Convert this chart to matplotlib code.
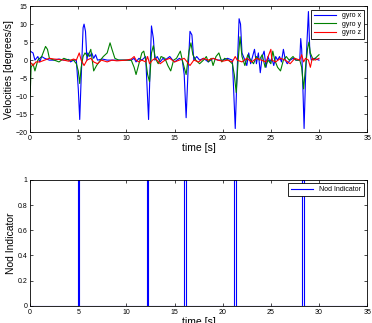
import matplotlib
matplotlib.use("Agg")
import matplotlib.pyplot as plt
from matplotlib.ticker import FuncFormatter

# gyro keypoints (time [s], degrees/s)
gx_t = [0, 0.3, 0.5, 0.8, 1.0, 1.2, 1.5, 2, 2.5, 3, 3.5, 4, 4.2, 4.5, 4.8,
        5.0, 5.15, 5.3, 5.5, 5.6, 5.75, 5.9, 6.0, 6.2, 6.4, 6.6, 6.8, 7, 7.5,
        8, 9, 10, 10.5, 10.8, 11, 11.3, 11.6, 12, 12.1, 12.3, 12.45, 12.6,
        12.8, 12.95, 13.2, 13.5, 13.8, 14, 14.5, 14.8, 15, 15.5, 15.8, 16.0,
        16.2, 16.4, 16.6, 16.8, 17, 17.3, 17.6, 18, 18.5, 19, 19.5, 20, 20.5,
        21, 21.1, 21.3, 21.5, 21.7, 21.85, 22, 22.3, 22.5, 22.7, 22.9, 23.1,
        23.3, 23.5, 23.7, 23.9, 24.1, 24.3, 24.5, 24.7, 24.9, 25.1, 25.3,
        25.5, 25.7, 25.9, 26.1, 26.3, 26.5, 26.7, 27, 27.3, 27.6, 28.0, 28.1,
        28.2, 28.35, 28.45, 28.6, 28.75, 28.9, 29.05, 29.2, 29.5, 30]
gx_v = [2.5, 2, 0, 1, -0.5, 1, 0.5, 0, 0, 0.3, 0, 0.2, -0.5, 0, 0,
        -8, -16.5, -5, 9, 10, 8, 0, 2, 1, 2, 0.5, 1.5, 0, 0.3,
        0, 0, 0, 0, 0.5, -0.5, 0.5, 0, 1, -5, -16.5, -3, 9.5,
        6, 0, 1, -0.5, 0.5, 0, 1, 0, -0.5, 0.5, 0, -4,
        -16, -3, 8, 7, 0, 1, 0, 0.5, -0.5, 0.5, 0, 0, 0.5,
        0, -6, -19, -3, 11.5, 10, 2, 0, -1.5, 2, -1, 1,
        3, -1, 2, -3.5, 1, 2.5, -2, 1, -0.5, 0.5, -1.5,
        1, 0, 1, -0.5, 3, 0, -1, 0, 0.5, 0, 0, 6,
        3, -10, -19, -5, 5, 13.5, 2, 0, 0.5, 0]

gy_t = [0, 0.1, 0.3, 0.5, 0.8, 1.2, 1.6, 1.8, 2.0, 2.5, 3, 3.5, 4, 4.5, 4.8,
        5.0, 5.15, 5.3, 5.5, 5.7, 6, 6.3, 6.6, 6.9, 7.3, 7.6, 8, 8.3, 8.5,
        8.8, 9.2, 9.5, 10, 10.5, 10.8, 11.0, 11.3, 11.6, 11.8, 12, 12.2, 12.4,
        12.6, 12.8, 13, 13.3, 13.6, 14, 14.3, 14.6, 14.9, 15.2, 15.6, 15.8,
        16, 16.2, 16.5, 16.7, 16.9, 17.2, 17.6, 18, 18.3, 18.5, 18.8, 19,
        19.3, 19.6, 19.9, 20.2, 20.6, 21, 21.2, 21.4, 21.6, 21.8, 22, 22.3,
        22.6, 22.9, 23.2, 23.5, 23.8, 24.1, 24.4, 24.7, 25, 25.2, 25.4, 25.7,
        26, 26.3, 26.6, 26.9, 27.3, 27.6, 28, 28.2, 28.3, 28.4, 28.6, 28.8,
        28.95, 29.1, 29.4, 29.8, 30]
gy_v = [-10, -2, -1, -3, 0, 1, 3.8, 3, 0.5, 0, -0.5, 0.5, 0, 0, -1,
        -3, -6.5, -2, 1, 2, 1, 3, -3, -1.5, 0, 1, 2, 4.8, 3,
        0.5, 0, 0, 0, 0, -2, -4, -1, 2, 2.5, 0, -4, -6,
        2, 4, 0.5, -1, 1, 0.5, -1.5, -3, 0, 0.5, 2.5, 0,
        -2, -4, 2.5, 4.8, 1.5, 0, -1, 0, 1, -0.5, 0.5, -1.5,
        1, 2, -0.5, 0.5, 0, -1, -4, -9, 0, 6.5, 1, -1.5,
        1.5, 0, -1, 1, 0, 1.5, -2, 0, -1, 2.5, 0, -2,
        -3, 0, 1, 0, 1, 0, 0, -2, -5, -8, -2, 3,
        5, 2, 0, 1, 1.5]

gz_t = [0, 0.3, 0.6, 1, 1.5, 2, 2.5, 3, 3.5, 4, 4.5, 4.8, 5.1, 5.3, 5.6,
        5.9, 6.3, 6.6, 7, 7.4, 8, 8.5, 9, 10, 10.5, 10.8, 11, 11.3, 11.6, 12,
        12.2, 12.4, 12.7, 13, 13.5, 14, 14.5, 15, 15.5, 16, 16.3, 16.6, 17,
        17.5, 18, 18.5, 19, 19.5, 20, 20.5, 21, 21.3, 21.5, 22, 22.5, 23,
        23.5, 24, 24.5, 25, 25.1, 25.5, 26, 26.5, 27, 27.5, 28, 28.2, 28.4,
        28.6, 28.9, 29.1, 29.3, 29.6, 30]
gz_v = [-0.5, -1.5, -0.5, -0.5, 0, 0.5, 0.3, 0.2, 0, -0.3, 0.3, 0, 2, 0, -1.5,
        0, 0.5, -0.5, -1, 0, -0.5, 0, -0.2, 0, 0.3, 1, 0, -0.5, 0, -0.5,
        1, -1, 0, 0.5, -1, 0, 0.5, -0.5, 0, 0.5, -0.5, -1.5, 0,
        -0.5, 0.5, 0, 0.5, 0, -0.3, 0, -0.5, 1, 0, -0.5, 0.5, -0.5,
        0.5, 0, -0.5, 3, 0, -0.5, 0.5, 0, -1, 0.5, 0, 1.5, -0.5,
        0.5, 0, -2, 0.5, 0, 0.5]

# nod indicator pulses (start, end) in seconds
nod_start = [4.95, 12.15, 16.03, 21.15, 28.25]
nod_end = [5.09, 12.25, 16.17, 21.33, 28.4]
nod_t = [0]
nod_v = [0]
for s, e in zip(nod_start, nod_end):
    nod_t += [s, s, e, e]
    nod_v += [0, 1, 1, 0]
nod_t.append(35)
nod_v.append(0)

plt.rcParams['font.family'] = ['Liberation Sans', 'DejaVu Sans']

def matlab_axes(ax):
    ax.tick_params(direction='in', top=True, right=True, labelsize=5,
                   length=2.5, width=0.5, pad=2)
    for sp in ax.spines.values():
        sp.set_linewidth(0.6)

fig = plt.figure(figsize=(3.72, 3.23), dpi=100)

ax1 = fig.add_axes([0.081, 0.591, 0.906, 0.390])
ax1.plot(gx_t, gx_v, color=(0, 0, 1), lw=0.8, label='gyro x')
ax1.plot(gy_t, gy_v, color=(0, 0.5, 0), lw=0.8, label='gyro y')
ax1.plot(gz_t, gz_v, color=(1, 0, 0), lw=0.8, label='gyro z')
ax1.set_xlim(0, 35)
ax1.set_ylim(-20, 15)
ax1.set_xticks(range(0, 36, 5))
ax1.set_yticks(range(-20, 16, 5))
ax1.set_xlabel('time [s]', fontsize=7.5, labelpad=1)
ax1.set_ylabel('Velocities [degrees/s]', fontsize=7.5, labelpad=1)
matlab_axes(ax1)
leg = ax1.legend(loc='upper right', fontsize=5, fancybox=False,
                 framealpha=1, edgecolor='black', handlelength=3.2,
                 borderpad=0.4, labelspacing=0.2)
leg.get_frame().set_linewidth(0.6)

ax2 = fig.add_axes([0.081, 0.053, 0.906, 0.390])
ax2.plot(nod_t, nod_v, color=(0, 0, 1), lw=0.8, label='Nod Indicator')
ax2.set_xlim(0, 35)
ax2.set_ylim(0, 1)
ax2.set_xticks(range(0, 36, 5))
ax2.set_yticks([0, 0.2, 0.4, 0.6, 0.8, 1])
ax2.yaxis.set_major_formatter(FuncFormatter(lambda v, p: f'{v:g}'))
ax2.set_xlabel('time [s]', fontsize=7.5, labelpad=1)
ax2.set_ylabel('Nod Indicator', fontsize=7.5, labelpad=1)
matlab_axes(ax2)
leg2 = ax2.legend(loc='upper right', fontsize=5, fancybox=False,
                  framealpha=1, edgecolor='black', handlelength=3.2,
                  borderpad=0.4)
leg2.get_frame().set_linewidth(0.6)

fig.savefig('out.png', dpi=100)
